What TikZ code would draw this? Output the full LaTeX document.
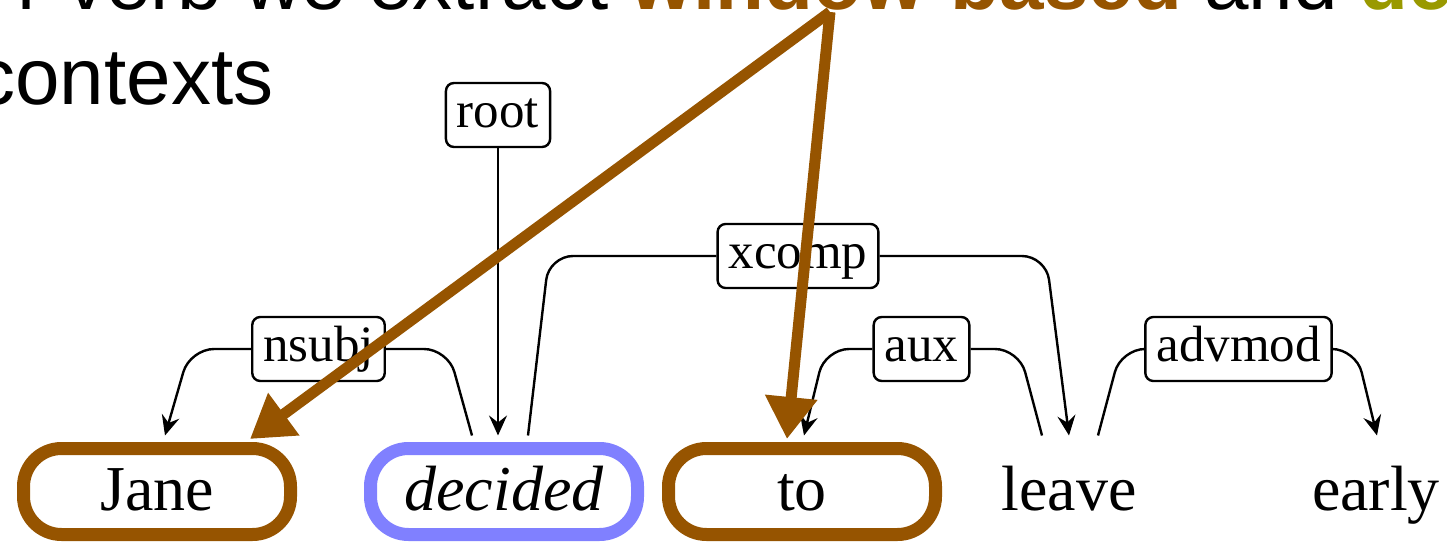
\documentclass[tikz,border=0pt]{standalone}
\usepackage{fontspec}
\setmainfont{Liberation Serif}
\newfontfamily\slidefont{Liberation Sans}
\usetikzlibrary{arrows.meta,calc,positioning}
\definecolor{ctxbrown}{RGB}{150,84,0}
\definecolor{ctxblue}{RGB}{128,128,255}
\definecolor{ctxolive}{RGB}{153,153,0}
\tikzset{
  word/.style={rounded corners=19pt, line width=6.5pt, minimum width=133.5pt, minimum height=43pt,
    inner sep=2pt, text height=25.6pt, text depth=7pt, font=\fontsize{32}{36}\selectfont},
  deplabel/.style={draw, rounded corners=4pt, line width=1.2pt, fill=white, inner xsep=5.5pt, inner ysep=3.25pt,
    text height=19.1pt, text depth=6.4pt, font=\fontsize{25.5}{28}\selectfont},
  dep/.style={-{Stealth[length=10pt,width=9pt,inset=3.5pt]}, line width=1.2pt, rounded corners=12pt},
  depline/.style={line width=1.2pt, rounded corners=12pt},
  ctxarrow/.style={-{Triangle[length=21pt,width=25pt]}, line width=5.5pt, draw=ctxbrown},
  slide/.style={font=\slidefont\fontsize{40}{46}\selectfont, inner sep=0pt},
}

\begin{document}
\begin{tikzpicture}[x=0.5pt, y=0.5pt]
\useasboundingbox (0,0) rectangle (1447,542);
\clip (0,0) rectangle (1447,542);

% slide text behind the tree
\node[slide, anchor=base west] (line1) at (17,532)
  {r verb we extract \textcolor{ctxbrown}{\bfseries window-based} and \textcolor{ctxolive}{\bfseries de}};
\node[slide, anchor=base west] (line2) at (-25,437) {contexts};

% words
\node[word, draw=ctxbrown] (jane) at (157,50.5) {Jane};
\node[word, draw=ctxblue] (decided) at (504,50.5) {\itshape decided};
\node[word, draw=ctxbrown] (to) at (802,50.5) {to};
\node[word] (leave) at (1069,50.5) {leave};
\node[word] (early) at (1376,50.5) {early};

% relation labels
\node[deplabel] (root) at (498,427) {root};
\node[deplabel] (xcomp) at (798,286) {xcomp};
\node[deplabel] (nsubj) at (318.5,193) {nsubj};
\node[deplabel] (aux) at (921.5,193) {aux};
\node[deplabel] (advmod) at (1238.5,193) {advmod};

% arcs
\draw[dep] (root) -- ($(decided.north)+(-6,6.5)$);
\draw[dep] (nsubj.west) -- ($(jane.north |- nsubj.west)+(33,0)$) -- ($(jane.north)+(8,6.5)$);
\draw[depline] (nsubj.east) -- ($(decided.north |- nsubj.east)+(-56,0)$) -- ($(decided.north)+(-32,6.5)$);
\draw[depline] (xcomp.west) -- ($(decided.north |- xcomp.west)+(45,0)$) -- ($(decided.north)+(24,6.5)$);
\draw[dep] (xcomp.east) -- ($(leave.north |- xcomp.east)+(-23,0)$) -- ($(leave.north)+(0,6.5)$);
\draw[dep] (aux.west) -- ($(to.north |- aux.west)+(23,0)$) -- ($(to.north)+(2,6.5)$);
\draw[depline] (aux.east) -- ($(leave.north |- aux.east)+(-50,0)$) -- ($(leave.north)+(-27,6.5)$);
\draw[depline] (advmod.west) -- ($(leave.north |- advmod.west)+(52,0)$) -- ($(leave.north)+(29,6.5)$);
\draw[dep] (advmod.east) -- ($(early.north |- advmod.east)+(-20,0)$) -- ($(early.north)+(1,6.5)$);

% window-based context arrows
\coordinate (src) at (830,530);
\draw[ctxarrow] (src) -- ($(jane.north)+(93,3)$);
\draw[ctxarrow] (src) -- ($(to.north)+(-15,3)$);

\end{tikzpicture}
\end{document}
